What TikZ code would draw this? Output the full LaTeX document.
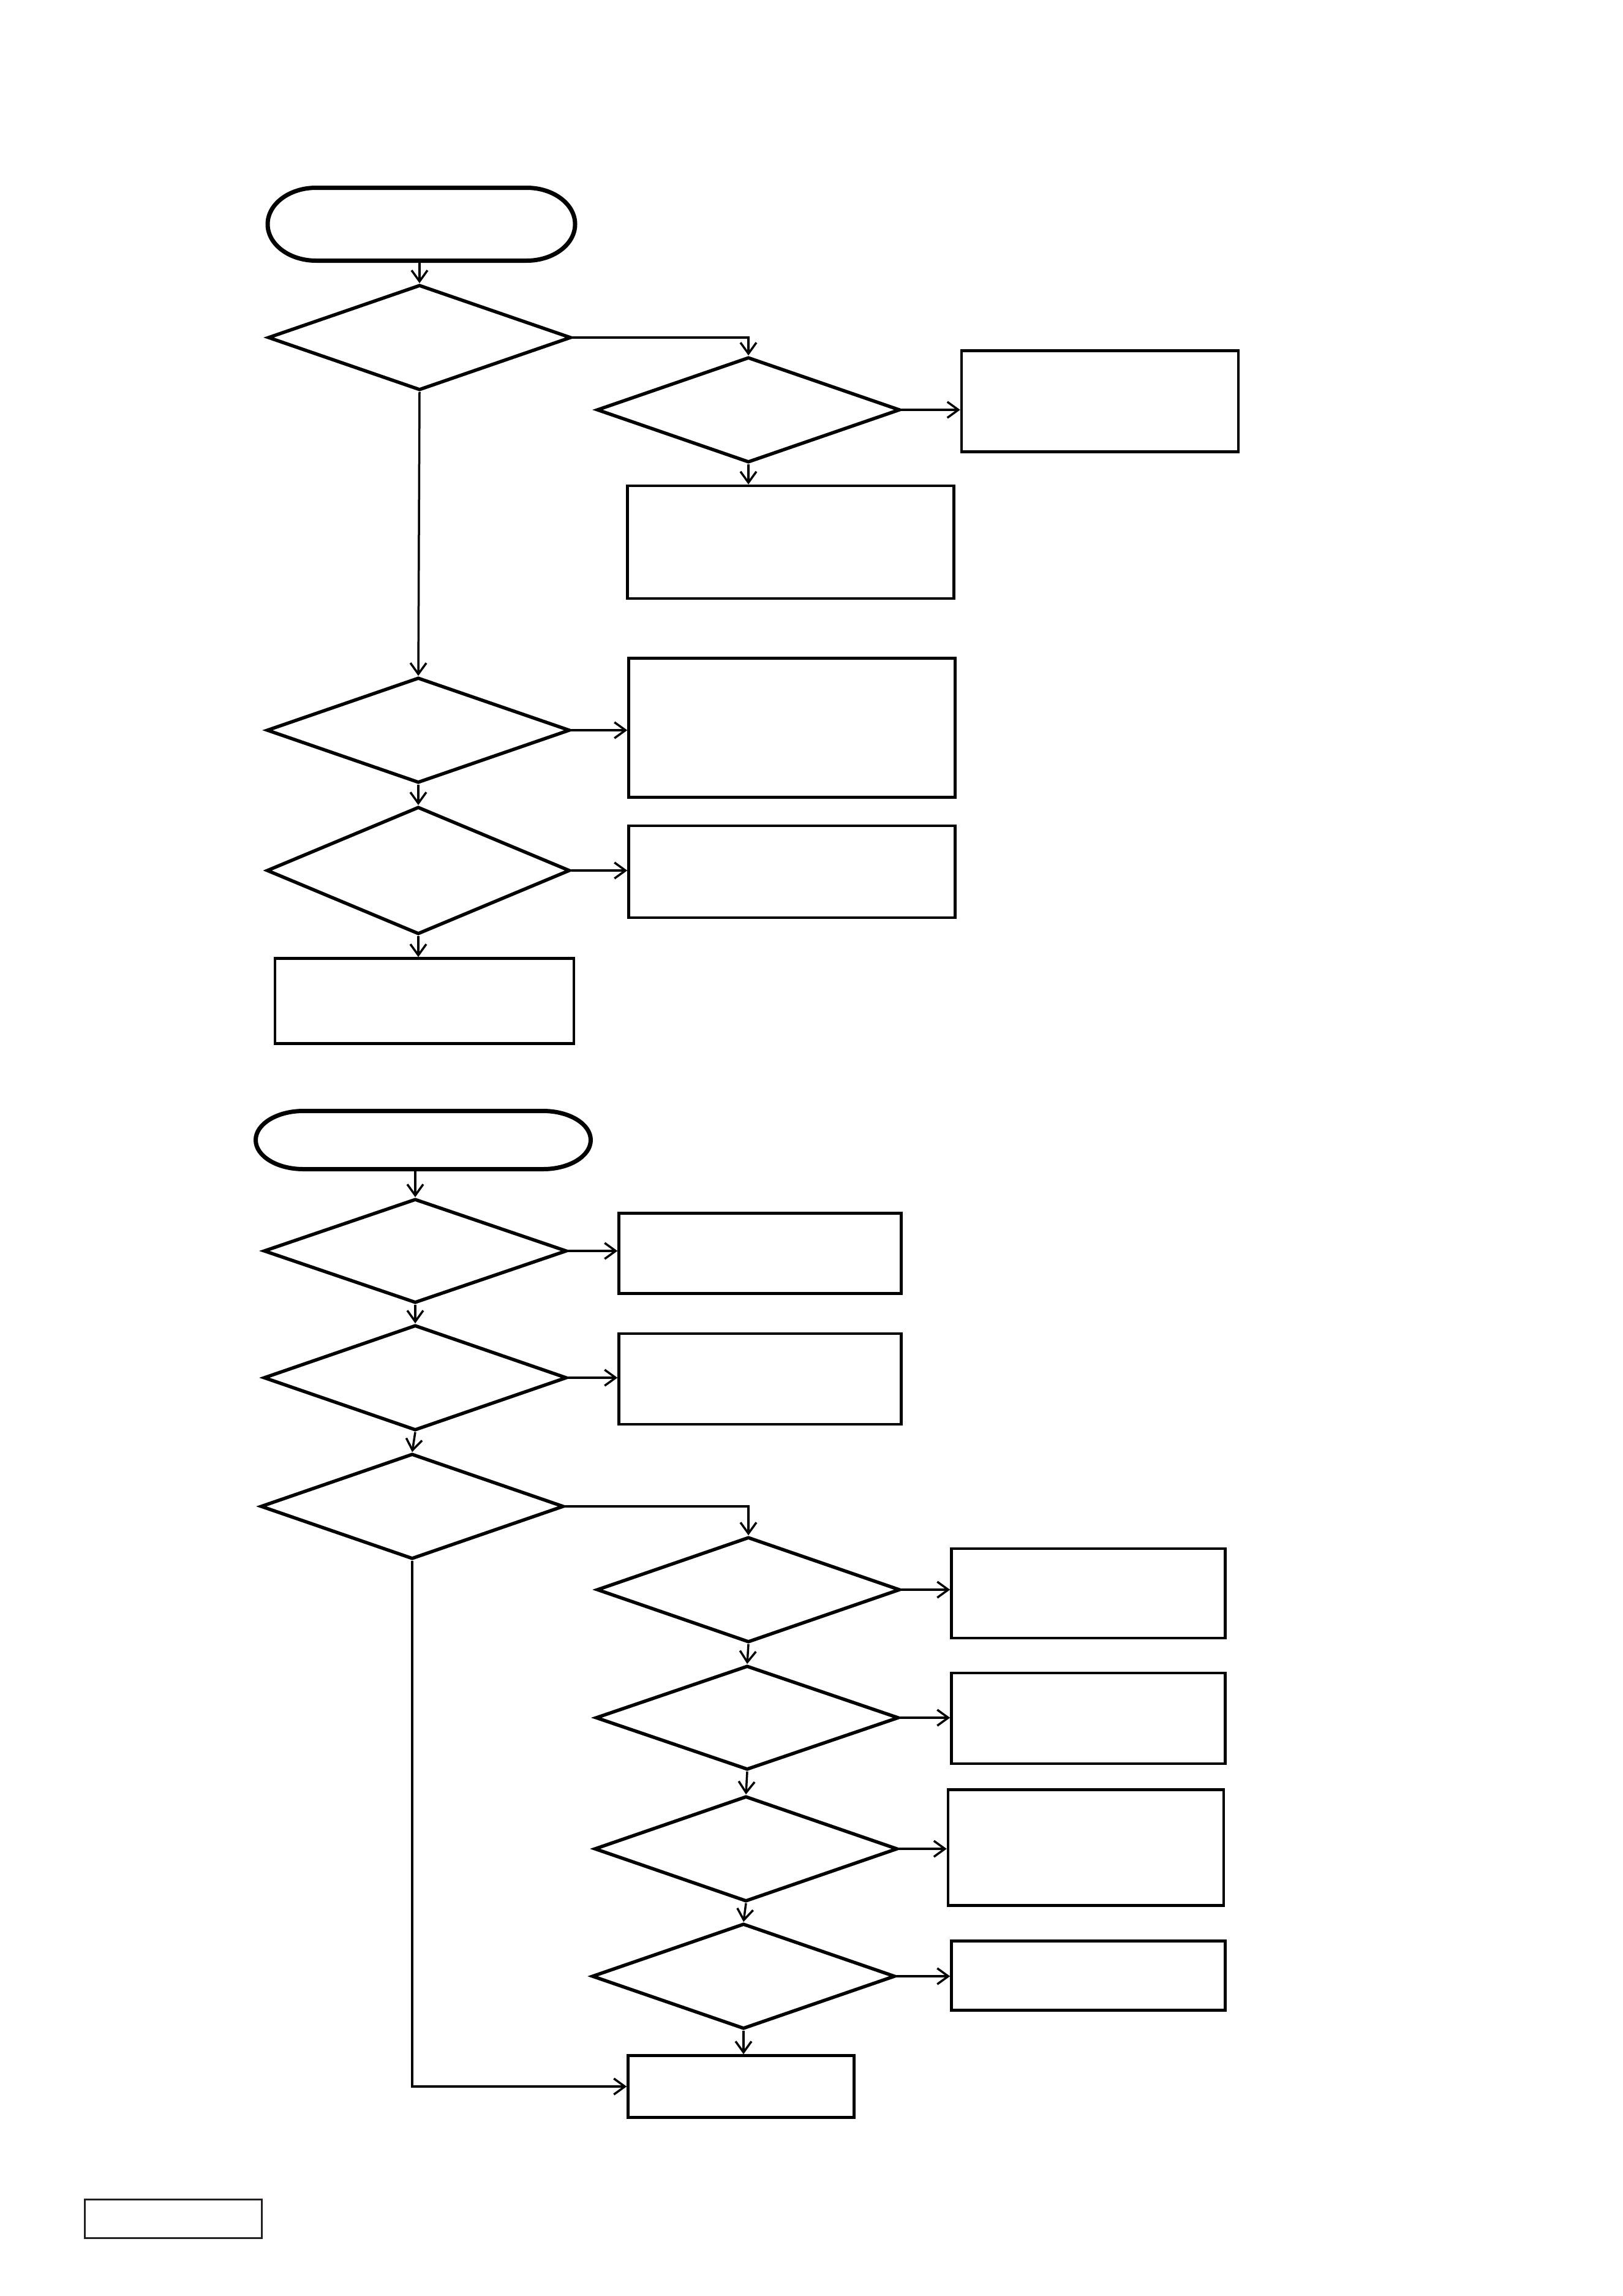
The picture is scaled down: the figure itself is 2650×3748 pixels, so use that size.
\documentclass[tikz,border=0pt]{standalone}
\usetikzlibrary{shapes.geometric,arrows.meta}
\definecolor{legendgray}{RGB}{35,31,32}
\begin{document}
\begin{tikzpicture}[x=1pt,y=-1pt,
  term/.style={rectangle,inner sep=0pt,outer sep=0pt},
  termline/.style={draw,line width=7pt},
  dec/.style={draw,diamond,line width=5.5pt,inner sep=0pt,minimum width=495pt,minimum height=172pt},
  proc/.style={draw,rectangle,line width=4.5pt,inner sep=0pt},
  conn/.style={line width=3.5pt,-{Straight Barb[length=18pt,width=26pt]}}]
\useasboundingbox (0,0) rectangle (2650,3748);
% top flow
\node[term,minimum width=502pt,minimum height=119pt] (t1) at (688,366) {};
\draw[termline] ([xshift=79pt]t1.north west) -- ([xshift=-79pt]t1.north east)
  arc[start angle=-90,end angle=90,x radius=79,y radius=59.5]
  -- ([xshift=79pt]t1.south west)
  arc[start angle=90,end angle=270,x radius=79,y radius=59.5] -- cycle;
\node[dec] (d1) at (685,551) {};
\node[dec] (d2) at (1222,669) {};
\node[proc,minimum width=452pt,minimum height=165pt] (b1) at (1796,655) {};
\node[proc,minimum width=533pt,minimum height=184pt] (b2) at (1291,885) {};
\node[dec] (d3) at (683,1192) {};
\node[proc,minimum width=533pt,minimum height=227pt] (b3) at (1293,1188) {};
\node[dec,minimum height=208pt] (d4) at (683,1421) {};
\node[proc,minimum width=533pt,minimum height=150pt] (b4) at (1293,1423) {};
\node[proc,minimum width=488pt,minimum height=139pt] (b5) at (693,1634) {};
% bottom flow
\node[term,minimum width=547pt,minimum height=95pt] (t2) at (691,1861) {};
\draw[termline] ([xshift=78pt]t2.north west) -- ([xshift=-78pt]t2.north east)
  arc[start angle=-90,end angle=90,x radius=78,y radius=47.5]
  -- ([xshift=78pt]t2.south west)
  arc[start angle=90,end angle=270,x radius=78,y radius=47.5] -- cycle;
\node[dec,minimum height=170pt] (d5) at (678,2042) {};
\node[proc,minimum width=461pt,minimum height=131pt] (b6) at (1241,2046) {};
\node[dec,minimum height=172pt] (d6) at (678,2249) {};
\node[proc,minimum width=461pt,minimum height=148pt] (b7) at (1241,2251) {};
\node[dec] (d7) at (673,2459) {};
\node[dec] (d8) at (1222,2595) {};
\node[proc,minimum width=447pt,minimum height=146pt] (b8) at (1777,2601) {};
\node[dec,minimum height=170pt] (d9) at (1220,2804) {};
\node[proc,minimum width=447pt,minimum height=148pt] (b9) at (1777,2805) {};
\node[dec] (d10) at (1218,3018) {};
\node[proc,minimum width=450pt,minimum height=189pt] (b10) at (1773,3016) {};
\node[dec] (d11) at (1214,3226) {};
\node[proc,minimum width=447pt,minimum height=113pt] (b11) at (1777,3225) {};
\node[proc,minimum width=369pt,minimum height=101pt] (b12) at (1210,3406) {};
% legend box
\node[draw=legendgray,line width=3.5pt,inner sep=0pt,minimum width=289pt,minimum height=63pt] (lg) at (283,3622) {};
% connectors top
\draw[conn] (t1.south -| d1.north) -- (d1.north);
\draw[conn] (d1.east) -| (d2.north);
\draw[conn] (d2.east) -- (d2.east -| b1.west);
\draw[conn] (d2.south) -- (d2.south |- b2.north);
\draw[conn] (d1.south) -- (d3.north);
\draw[conn] (d3.east) -- (d3.east -| b3.west);
\draw[conn] (d3.south) -- (d4.north);
\draw[conn] (d4.east) -- (d4.east -| b4.west);
\draw[conn] (d4.south) -- (d4.south |- b5.north);
% connectors bottom
\draw[conn] (t2.south -| d5.north) -- (d5.north);
\draw[conn] (d5.east) -- (d5.east -| b6.west);
\draw[conn] (d5.south) -- (d6.north);
\draw[conn] (d6.east) -- (d6.east -| b7.west);
\draw[conn] (d6.south) -- (d7.north);
\draw[conn] (d7.east) -| (d8.north);
\draw[conn] (d8.east) -- (d8.east -| b8.west);
\draw[conn] (d8.south) -- (d9.north);
\draw[conn] (d9.east) -- (d9.east -| b9.west);
\draw[conn] (d9.south) -- (d10.north);
\draw[conn] (d10.east) -- (d10.east -| b10.west);
\draw[conn] (d10.south) -- (d11.north);
\draw[conn] (d11.east) -- (d11.east -| b11.west);
\draw[conn] (d11.south) -- (d11.south |- b12.north);
\draw[conn] (d7.south) |- (b12.west);
\end{tikzpicture}
\end{document}
